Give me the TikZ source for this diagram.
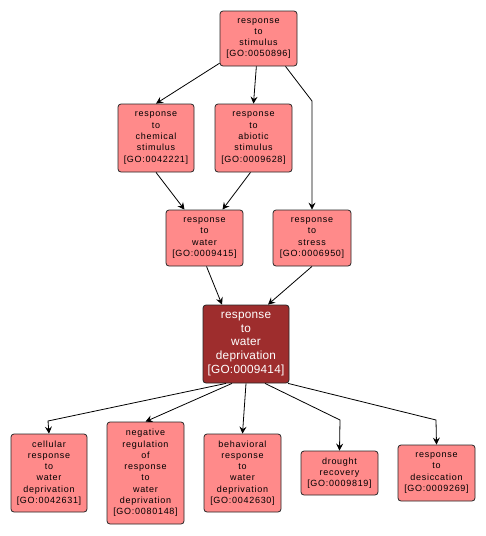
\documentclass[tikz,border=0pt]{standalone}
\usepackage{fontspec}
\setmainfont{Liberation Sans}
\newfontfamily\gofont[LetterSpace=8]{Liberation Sans}
\newfontfamily\mainfont[LetterSpace=2]{Liberation Sans}
\usetikzlibrary{arrows.meta,calc}
\definecolor{boxfill}{RGB}{255,138,138}
\definecolor{darkfill}{RGB}{158,45,45}
\tikzset{
  gobox/.style={draw=black!85, line width=0.8pt, fill=boxfill, rounded corners=3pt,
    align=center, inner sep=0pt, font=\gofont\fontsize{9}{11.3}\selectfont},
  mainbox/.style={gobox, fill=darkfill, text=white, font=\mainfont\fontsize{11.8}{13.8}\selectfont},
  edge/.style={draw=black, line width=0.8pt, -{Stealth[length=7pt,width=7pt,inset=2.5pt]}}
}
\begin{document}
\begin{tikzpicture}[x=1pt,y=-1pt]
\useasboundingbox (0,0) rectangle (486,536);
\node[gobox, minimum width=77pt, minimum height=55pt] (stim) at (258.5,38.5) {response\\to\\stimulus\\{[GO:0050896]}};
\node[gobox, minimum width=76pt, minimum height=68pt] (chem) at (156,138) {response\\to\\chemical\\stimulus\\{[GO:0042221]}};
\node[gobox, minimum width=77pt, minimum height=68pt] (abio) at (253.5,138) {response\\to\\abiotic\\stimulus\\{[GO:0009628]}};
\node[gobox, minimum width=77pt, minimum height=56pt] (water) at (204.5,238) {response\\to\\water\\{[GO:0009415]}};
\node[gobox, minimum width=78pt, minimum height=56pt] (stress) at (312,238) {response\\to\\stress\\{[GO:0006950]}};
\node[mainbox, minimum width=86pt, minimum height=78pt] (depr) at (246,344) {response\\to\\water\\deprivation\\{[GO:0009414]}};
\node[gobox, minimum width=76pt, minimum height=78pt] (cell) at (49,473) {cellular\\response\\to\\water\\deprivation\\{[GO:0042631]}};
\node[gobox, minimum width=77pt, minimum height=102pt] (neg) at (145.5,473) {negative\\regulation\\of\\response\\to\\water\\deprivation\\{[GO:0080148]}};
\node[gobox, minimum width=77pt, minimum height=78pt] (behav) at (242.5,473) {behavioral\\response\\to\\water\\deprivation\\{[GO:0042630]}};
\node[gobox, minimum width=77pt, minimum height=44pt] (drought) at (339.5,473) {drought\\recovery\\{[GO:0009819]}};
\node[gobox, minimum width=77pt, minimum height=56pt] (desic) at (436.5,473) {response\\to\\desiccation\\{[GO:0009269]}};
\coordinate (b1) at (312,101);
\coordinate (b2) at (48,421);
\coordinate (b3) at (340,420);
\coordinate (b4) at (436,420);
\draw[edge] (stim) -- (chem.north);
\draw[edge] (stim) -- (abio.north);
\draw[edge] ($(stim.south)+(27,0)$) -- (b1) -- (stress.north);
\draw[edge] (chem.south) -- ($(water.north)+(-20,0)$);
\draw[edge] ($(abio.south)+(-3,0)$) -- ($(water.north)+(18,0)$);
\draw[edge] ($(water.south)+(2,0)$) -- ($(depr.north)+(-24,0)$);
\draw[edge] (stress.south) -- ($(depr.north)+(22,0)$);
\draw[edge] ($(depr.south)+(-20,0)$) -- (b2) -- (cell.north);
\draw[edge] ($(depr.south)+(-14,0)$) -- (neg.north);
\draw[edge] (depr.south) -- (behav.north);
\draw[edge] ($(depr.south)+(19,0)$) -- (b3) -- (drought.north);
\draw[edge] ($(depr.south)+(42,0)$) -- (b4) -- (desic.north);
\end{tikzpicture}
\end{document}
